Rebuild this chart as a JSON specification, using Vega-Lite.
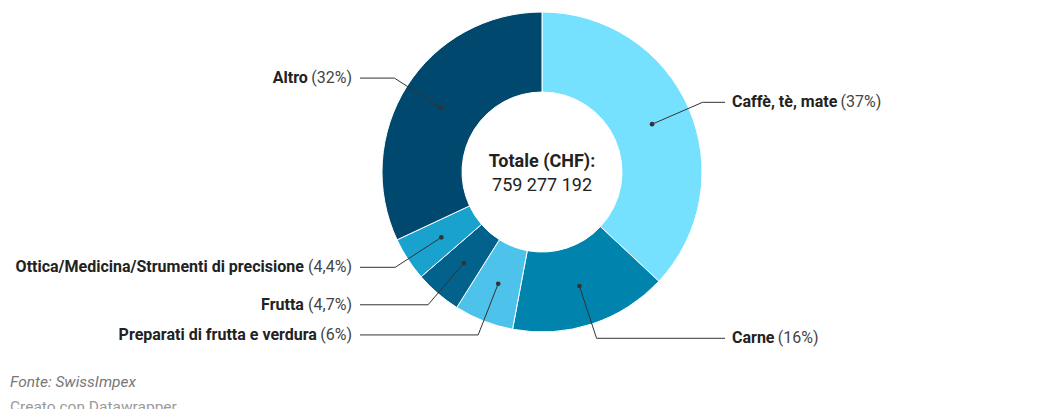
{
  "$schema": "https://vega.github.io/schema/vega-lite/v6.json",
  "width": 1040,
  "height": 344,
  "autosize": {"type": "none"},
  "padding": {"left": 22, "right": 0, "top": 0, "bottom": 65},
  "background": "white",
  "config": {"view": {"stroke": null}, "font": "Roboto", "text": {"font": "Roboto"}},
  "title": {
    "text": "Fonte: SwissImpex",
    "subtitle": "Creato con Datawrapper",
    "orient": "bottom",
    "anchor": "start",
    "frame": "group",
    "font": "Roboto",
    "fontSize": 15.5,
    "fontStyle": "italic",
    "fontWeight": "normal",
    "color": "#777777",
    "subtitleFont": "Roboto",
    "subtitleFontSize": 15.5,
    "subtitleFontStyle": "normal",
    "subtitleColor": "#9a9a9a",
    "dx": -12,
    "offset": 29,
    "subtitlePadding": 9
  },
  "layer": [
    {
      "data": {
        "values": [
          {"name": "Caffè, tè, mate", "value": 37},
          {"name": "Carne", "value": 16},
          {"name": "Preparati di frutta e verdura", "value": 6},
          {"name": "Frutta", "value": 4.7},
          {"name": "Ottica/Medicina/Strumenti di precisione", "value": 4.4},
          {"name": "Altro", "value": 32}
        ]
      },
      "transform": [
        {"joinaggregate": [{"op": "sum", "field": "value", "as": "total"}]},
        {"window": [{"op": "sum", "field": "value", "as": "cum"}], "frame": [null, 0]},
        {"calculate": "(datum.cum - datum.value/2) / datum.total * 2 * PI", "as": "mid"},
        {"calculate": "sin(datum.mid) > 0", "as": "right"},
        {"calculate": "120*sin(datum.mid)", "as": "dotx"},
        {"calculate": "120*cos(datum.mid)", "as": "doty"},
        {"calculate": "175*sin(datum.mid)", "as": "elbx"},
        {"calculate": "175*cos(datum.mid)", "as": "elby"},
        {"calculate": "datum.right ? 183 : -182", "as": "endx"},
        {"calculate": "'(' + replace(toString(datum.value), '.', ',') + '%)'", "as": "pct"},
        {"calculate": "length(replace(datum.pct, regexp('[^0-9]','g'), ''))", "as": "nd"},
        {"calculate": "16*(0.668 + 0.5615*datum.nd + 0.716 + 0.25*(length(datum.pct) - 3 - datum.nd))", "as": "pw"},
        {"calculate": "length(replace(datum.name, regexp('[^il,.:; ]','g'), ''))", "as": "c1"},
        {"calculate": "length(replace(datum.name, regexp('[^ftrj/()]','g'), ''))", "as": "c2"},
        {"calculate": "length(replace(datum.name, regexp('[^mwMW]','g'), ''))", "as": "c3"},
        {"calculate": "length(replace(datum.name, regexp('[^A-LN-VX-Z]','g'), ''))", "as": "c4"},
        {"calculate": "16*(0.235*datum.c1 + 0.345*datum.c2 + 0.86*datum.c3 + 0.65*datum.c4 + 0.54*(length(datum.name)-datum.c1-datum.c2-datum.c3-datum.c4))", "as": "nw"},
        {"calculate": "datum.right ? 190 : -190", "as": "lx"},
        {"calculate": "datum.right ? 190 + datum.nw + 4 : -190 - datum.pw - 4", "as": "ox"}
      ],
      "layer": [
        {
          "mark": {"type": "arc", "outerRadius": 160, "innerRadius": 80, "stroke": "white", "strokeWidth": 1},
          "encoding": {
            "theta": {"field": "value", "type": "quantitative", "stack": true},
            "order": {"field": "cum", "type": "quantitative"},
            "color": {
              "field": "name",
              "type": "nominal",
              "legend": null,
              "scale": {
                "domain": ["Caffè, tè, mate", "Carne", "Preparati di frutta e verdura", "Frutta", "Ottica/Medicina/Strumenti di precisione", "Altro"],
                "range": ["#76e1fe", "#0083ad", "#4dc3ec", "#03628b", "#19a2ce", "#01486e"]
              }
            }
          }
        },
        {
          "mark": {"type": "rule", "color": "#333333", "strokeWidth": 1},
          "encoding": {
            "x": {"field": "dotx", "type": "quantitative", "scale": {"domain": [-520, 520], "nice": false, "zero": false}, "axis": null},
            "y": {"field": "doty", "type": "quantitative", "scale": {"domain": [-172, 172], "nice": false, "zero": false}, "axis": null},
            "x2": {"field": "elbx"},
            "y2": {"field": "elby"}
          }
        },
        {
          "mark": {"type": "rule", "color": "#333333", "strokeWidth": 1},
          "encoding": {
            "x": {"field": "elbx", "type": "quantitative"},
            "y": {"field": "elby", "type": "quantitative"},
            "x2": {"field": "endx"},
            "y2": {"field": "elby"}
          }
        },
        {
          "mark": {"type": "circle", "size": 22, "color": "#333333", "opacity": 1},
          "encoding": {
            "x": {"field": "dotx", "type": "quantitative"},
            "y": {"field": "doty", "type": "quantitative"}
          }
        },
        {
          "transform": [{"filter": "datum.right"}],
          "mark": {"type": "text", "align": "left", "baseline": "middle", "fontSize": 16, "fontWeight": "bold", "color": "#222222"},
          "encoding": {
            "x": {"field": "lx", "type": "quantitative"},
            "y": {"field": "elby", "type": "quantitative"},
            "text": {"field": "name"}
          }
        },
        {
          "transform": [{"filter": "datum.right"}],
          "mark": {"type": "text", "align": "left", "baseline": "middle", "fontSize": 16, "color": "#444444"},
          "encoding": {
            "x": {"field": "ox", "type": "quantitative"},
            "y": {"field": "elby", "type": "quantitative"},
            "text": {"field": "pct"}
          }
        },
        {
          "transform": [{"filter": "!datum.right"}],
          "mark": {"type": "text", "align": "right", "baseline": "middle", "fontSize": 16, "fontWeight": "bold", "color": "#222222"},
          "encoding": {
            "x": {"field": "ox", "type": "quantitative"},
            "y": {"field": "elby", "type": "quantitative"},
            "text": {"field": "name"}
          }
        },
        {
          "transform": [{"filter": "!datum.right"}],
          "mark": {"type": "text", "align": "right", "baseline": "middle", "fontSize": 16, "color": "#444444"},
          "encoding": {
            "x": {"field": "lx", "type": "quantitative"},
            "y": {"field": "elby", "type": "quantitative"},
            "text": {"field": "pct"}
          }
        }
      ]
    },
    {
      "data": {"values": [{"l1": "Totale (CHF):", "l2": "759 277 192"}]},
      "layer": [
        {
          "mark": {"type": "text", "align": "center", "baseline": "alphabetic", "dy": -5, "fontSize": 18, "fontWeight": "bold", "color": "#222222"},
          "encoding": {"text": {"field": "l1"}}
        },
        {
          "mark": {"type": "text", "align": "center", "baseline": "alphabetic", "dy": 19, "fontSize": 18, "color": "#222222"},
          "encoding": {"text": {"field": "l2"}}
        }
      ]
    }
  ]
}
